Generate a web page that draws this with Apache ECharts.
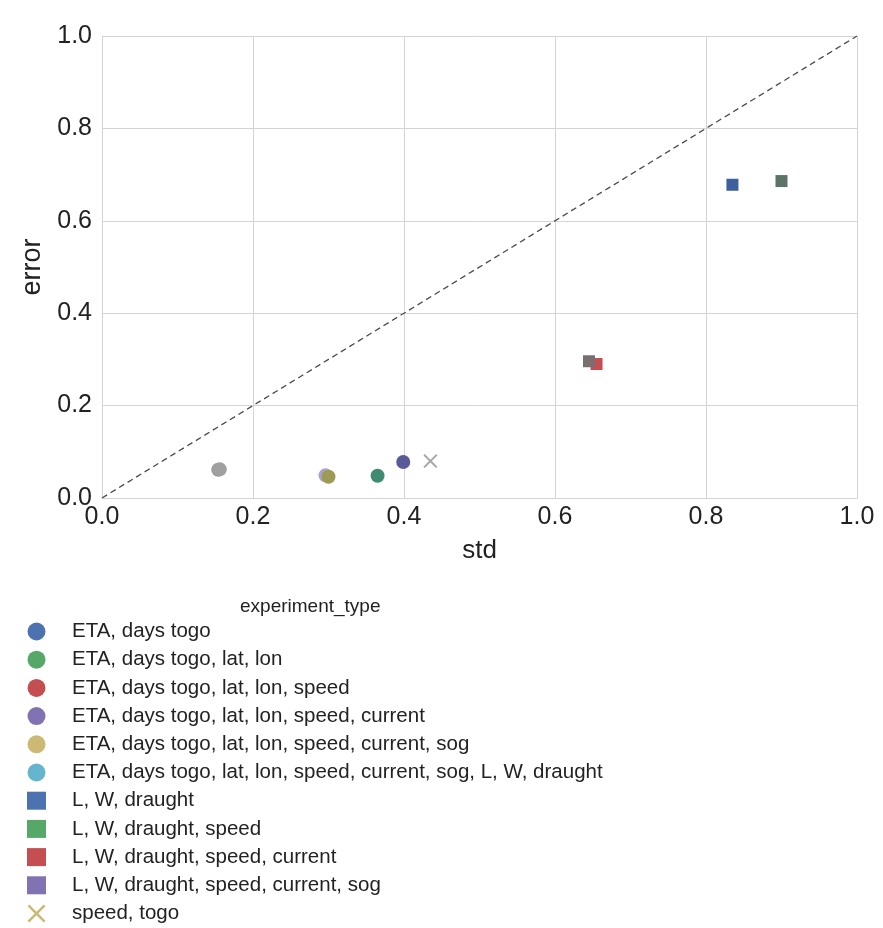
<!DOCTYPE html>
<html><head><meta charset="utf-8">
<script src="https://cdn.jsdelivr.net/npm/echarts@6/dist/echarts.min.js"></script>
<style>html,body{margin:0;padding:0;background:#fff}#c{width:883px;height:928px}</style>
</head><body><div id="c"></div>
<script>
const seriesNames = [
  "ETA, days togo",
  "ETA, days togo, lat, lon",
  "ETA, days togo, lat, lon, speed",
  "ETA, days togo, lat, lon, speed, current",
  "ETA, days togo, lat, lon, speed, current, sog",
  "ETA, days togo, lat, lon, speed, current, sog, L, W, draught",
  "L, W, draught",
  "L, W, draught, speed",
  "L, W, draught, speed, current",
  "L, W, draught, speed, current, sog",
  "speed, togo"
];
const seriesColors = ["#4C72B0","#55A868","#C44E52","#8172B2","#CCB974","#64B5CD","#4C72B0","#55A868","#C44E52","#8172B2","#CCB974"];
// rendered (faded) appearance of each point in the picture
const pointColors  = ["#5a5a9a","#3f8a70","#9a9a9a","#a9a3c8","#9c9a55","#a0a0a0","#3d5f9c","#5c7468","#c44e52","#7a6f6f","#a8a8a8"];
const symbols = ["circle","circle","circle","circle","circle","circle","rect","rect","rect","rect","x"];
// [std, error]
const stdValues   = [0.399, 0.365, 0.154, 0.296, 0.300, 0.156, 0.835, 0.900, 0.655, 0.645, 0.435];
const errorValues = [0.078, 0.048, 0.061, 0.049, 0.046, 0.062, 0.678, 0.686, 0.290, 0.296, 0.080];
const diagonal = [[0,0],[1,1]];

const xPath = 'path://M0,1 L1,0 L5,4 L9,0 L10,1 L6,5 L10,9 L9,10 L5,6 L1,10 L0,9 L4,5 Z';
const font = 'Liberation Sans, Arial, sans-serif';

const series = seriesNames.map((n,i)=>({
  name: n,
  type: 'scatter',
  symbol: symbols[i]==='x' ? xPath : symbols[i],
  symbolSize: symbols[i]==='circle' ? 14 : (symbols[i]==='rect' ? 12 : 14),
  itemStyle: {color: seriesColors[i], opacity: 1},
  data: [{value:[stdValues[i], errorValues[i]], itemStyle:{color: pointColors[i], opacity: 1}}],
  z: 3
}));
series.push({
  name: 'diag', type: 'line', data: diagonal, symbol: 'none', silent: true,
  lineStyle: {color: '#4a4a4a', width: 1.3, type: [6,4]}, z: 2
});

const chart = echarts.init(document.getElementById('c'), null, {renderer:'canvas'});
chart.setOption({
  backgroundColor: '#ffffff',
  animation: false,
  textStyle: {fontFamily: font},
  title: {text: 'experiment_type', left: 235, top: 592,
    textStyle: {fontFamily: font, fontSize: 19, fontWeight: 'normal', color: '#222'}},
  grid: {left: 102, right: 26, top: 36, bottom: 430},
  xAxis: {type: 'value', min: 0, max: 1, interval: 0.2,
    name: 'std', nameLocation: 'middle', nameGap: 40,
    nameTextStyle: {fontSize: 26, color: '#222', fontFamily: font},
    axisLine: {show: true, lineStyle: {color: '#d4d4d4'}}, axisTick: {show: false},
    axisLabel: {fontSize: 25, color: '#222', margin: 7, formatter: v => v.toFixed(1)},
    splitLine: {show: true, lineStyle: {color: '#d4d4d4', width: 1}}},
  yAxis: {type: 'value', min: 0, max: 1, interval: 0.2,
    name: 'error', nameLocation: 'middle', nameGap: 54,
    nameTextStyle: {fontSize: 27, color: '#222', fontFamily: font},
    axisLine: {show: true, lineStyle: {color: '#d4d4d4'}}, axisTick: {show: false},
    axisLabel: {fontSize: 25, color: '#222', margin: 10, formatter: v => v.toFixed(1)},
    splitLine: {show: true, lineStyle: {color: '#d4d4d4', width: 1}}},
  legend: {
    data: seriesNames.map((n,i)=>({name: n, icon: symbols[i]==='x' ? xPath : symbols[i]})),
    orient: 'vertical', left: 27, top: 621, padding: 0, itemWidth: 19, itemHeight: 18, itemGap: 7.2,
    selectedMode: false,
    textStyle: {fontFamily: font, fontSize: 20.5, color: '#222', padding: [0,0,0,21]}
  },
  series: series
});
</script></body></html>
